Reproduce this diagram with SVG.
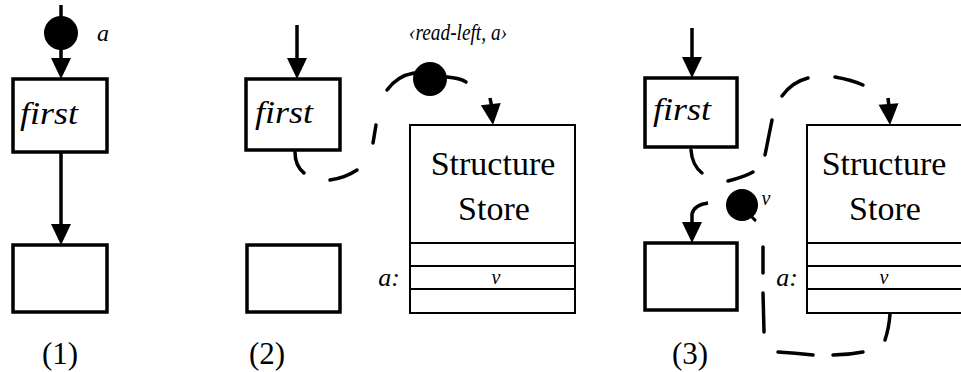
<svg xmlns="http://www.w3.org/2000/svg" width="961" height="372" viewBox="0 0 961 372">
<defs>
<path id="arr" d="M-10,-21 L10,-21 L0,0 Z" fill="#000"/>
<style>
.node{fill:#fff;stroke:#000;stroke-width:3.5}
.store{fill:#fff;stroke:#000;stroke-width:2}
.row{stroke:#000;stroke-width:2}
.conn{fill:none;stroke:#000;stroke-width:3.5}
.dash{fill:none;stroke:#000;stroke-width:3.5;stroke-linecap:round}
.tok{fill:#000}
.it{font-family:"Liberation Serif","Times New Roman",serif;font-style:italic;fill:#000}
.rm{font-family:"Liberation Serif","Times New Roman",serif;fill:#000}
</style>
</defs>
<rect width="961" height="372" fill="#fff"/>

<g id="connectors">
<!-- panel 1 -->
<line class="conn" x1="61" y1="5" x2="61" y2="20"/>
<line class="conn" x1="61" y1="48" x2="61" y2="62"/>
<use href="#arr" x="61" y="79"/>
<line class="conn" x1="61" y1="152" x2="61" y2="227"/>
<use href="#arr" x="61" y="245"/>
<!-- panel 2 -->
<line class="conn" x1="297" y1="25" x2="297" y2="62"/>
<use href="#arr" x="297" y="79"/>
<path class="dash" d="M295,152 Q295,166 304,173"/>
<path class="dash" d="M330,180 Q345,178 357,170"/>
<path class="dash" d="M373,143 L376,125"/>
<path class="dash" d="M387,90 Q397,76 414,73"/>
<path class="dash" d="M447,77 Q460,78 466,82"/>
<line class="conn" x1="490" y1="98" x2="492" y2="108"/>
<use href="#arr" transform="translate(493,125) rotate(-6)"/>
<!-- panel 3 -->
<line class="conn" x1="692" y1="28" x2="692" y2="60"/>
<use href="#arr" x="692" y="78"/>
<path class="dash" d="M691,150 Q692,165 702,173"/>
<path class="dash" d="M728,181 Q744,177 753,172"/>
<path class="dash" d="M765,155 L772,120"/>
<path class="dash" d="M782,96 Q792,82 808,78"/>
<path class="dash" d="M835,77 Q852,80 863,85"/>
<line class="conn" x1="888" y1="98" x2="889" y2="107"/>
<use href="#arr" transform="translate(890,125) rotate(-4)"/>
<path class="dash" d="M890,314 Q889,328 885,340"/>
<path class="dash" d="M863,352 Q848,355 833,355"/>
<path class="dash" d="M813,355 Q795,353 778,352"/>
<path class="dash" d="M764,332 L763,293"/>
<path class="dash" d="M763,273 L763,247"/>
<path class="conn" d="M708,203 Q694,205 692,214 L692,224"/>
<use href="#arr" x="692" y="243"/>
</g>

<g id="panel1">
<circle class="tok" cx="61" cy="33" r="17"/>
<text class="it" x="97" y="41" font-size="24">a</text>
<g id="p1-first"><rect class="node" x="13" y="79" width="94" height="73"/>
<text class="it" x="20" y="124" font-size="32" textLength="58" lengthAdjust="spacingAndGlyphs">first</text></g>
<g id="p1-box"><rect class="node" x="13" y="245" width="94" height="67"/></g>
<text class="rm" x="60" y="364" font-size="31" text-anchor="middle">(1)</text>
</g>

<g id="panel2">
<g id="p2-first"><rect class="node" x="246" y="79" width="94" height="71"/>
<text class="it" x="255" y="123" font-size="32" textLength="58" lengthAdjust="spacingAndGlyphs">first</text></g>
<g id="p2-box"><rect class="node" x="247" y="245" width="93" height="67"/></g>
<g id="p2-token"><circle class="tok" cx="430" cy="79" r="17"/>
<text class="it" x="458" y="40" font-size="23" text-anchor="middle" textLength="98" lengthAdjust="spacingAndGlyphs">‹read-left, a›</text></g>
<g id="p2-store"><rect class="store" x="410" y="125" width="165" height="188"/>
<line class="row" x1="410" y1="243" x2="575" y2="243"/>
<line class="row" x1="410" y1="266" x2="575" y2="266" stroke-width="3"/>
<line class="row" x1="410" y1="289" x2="575" y2="289"/>
<text class="rm" x="493" y="175" font-size="34" text-anchor="middle">Structure</text>
<text class="rm" x="494" y="220" font-size="34" text-anchor="middle">Store</text>
<text class="it" x="400" y="286" font-size="26" text-anchor="end">a:</text>
<text class="it" x="496" y="284" font-size="20" text-anchor="middle">v</text></g>
<text class="rm" x="267" y="364" font-size="31" text-anchor="middle">(2)</text>
</g>

<g id="panel3">
<g id="p3-first"><rect class="node" x="645" y="78" width="92" height="69"/>
<text class="it" x="653" y="120" font-size="32" textLength="58" lengthAdjust="spacingAndGlyphs">first</text></g>
<g id="p3-box"><rect class="node" x="645" y="243" width="92" height="67"/></g>
<g id="p3-token"><circle class="tok" cx="742" cy="205" r="16"/>
<path d="M750,214 Q753,219 756,221" fill="none" stroke="#000" stroke-width="3"/>
<text class="it" x="766" y="205" font-size="20" text-anchor="middle">v</text></g>
<g id="p3-store"><rect class="store" x="807" y="125" width="170" height="188"/>
<line class="row" x1="807" y1="243" x2="977" y2="243"/>
<line class="row" x1="807" y1="266" x2="977" y2="266" stroke-width="3"/>
<line class="row" x1="807" y1="289" x2="977" y2="289"/>
<text class="rm" x="884" y="175" font-size="34" text-anchor="middle">Structure</text>
<text class="rm" x="885" y="220" font-size="34" text-anchor="middle">Store</text>
<text class="it" x="798" y="286" font-size="26" text-anchor="end">a:</text>
<text class="it" x="884" y="284" font-size="20" text-anchor="middle">v</text></g>
<text class="rm" x="690" y="364" font-size="31" text-anchor="middle">(3)</text>
</g>
</svg>
